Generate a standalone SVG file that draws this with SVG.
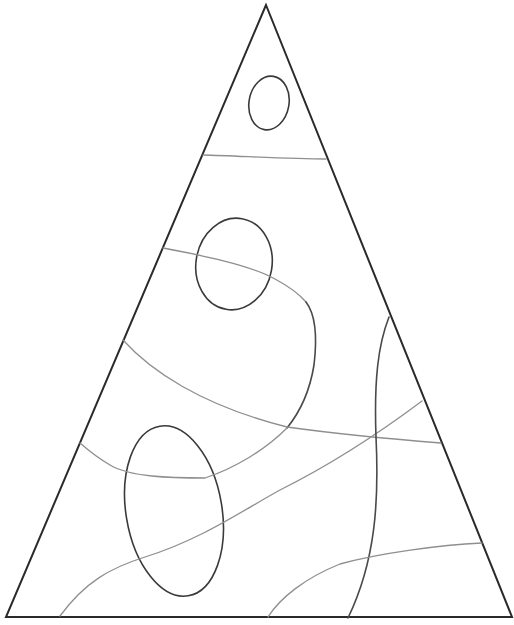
<svg xmlns="http://www.w3.org/2000/svg" width="514" height="625" viewBox="0 0 514 625">
<style>
.tri{fill:none;stroke:#2a2a2a;stroke-width:2;stroke-linejoin:miter}
.ell{fill:none;stroke:#3a3a3a;stroke-width:1.6}
.crv{fill:none;stroke:#8f8f8f;stroke-width:1.3;stroke-linecap:round}
.crvd{fill:none;stroke:#4a4a4a;stroke-width:1.6;stroke-linecap:round}
</style>
<rect width="514" height="625" fill="#fff"/>
<g id="triangle"><polygon class="tri" points="266,5 6,617 512,617"/></g>
<g id="ellipse-top"><ellipse class="ell" cx="269" cy="103" rx="20" ry="27" transform="rotate(10 269 103)"/></g>
<g id="ellipse-mid"><ellipse class="ell" cx="234" cy="264" rx="38" ry="46" transform="rotate(10 234 264)"/></g>
<g id="ellipse-low"><ellipse class="ell" cx="174" cy="511" rx="48" ry="86" transform="rotate(-9.5 174 511)"/></g>
<g id="curves">
<path class="crv" d="M203,155 C240,156 290,159 326,159"/>
<path class="crv" d="M163,248 C200,255 250,265 275,279 C290,287 300,295 306,302"/>
<path class="crvd" d="M306,302 C316,315 317,340 314,365 C310,390 300,412 287,428"/>
<path class="crv" d="M287,428 C265,450 235,468 205,478 C170,478 130,477 110,465 C98,458 88,450 80,443"/>
<path class="crv" d="M123,340 C150,370 200,405 287,427 C330,433 390,439 441,443"/>
<path class="crv" d="M422,401 C390,425 340,460 280,490 C240,512 200,540 145,557 C110,568 85,582 60,616"/>
<path class="crvd" d="M389,317 C378,345 374,380 376,437 C379,500 376,560 348,618"/>
<path class="crv" d="M268,617 C280,598 305,578 340,564 C380,553 440,545 482,543"/>
</g>
</svg>
